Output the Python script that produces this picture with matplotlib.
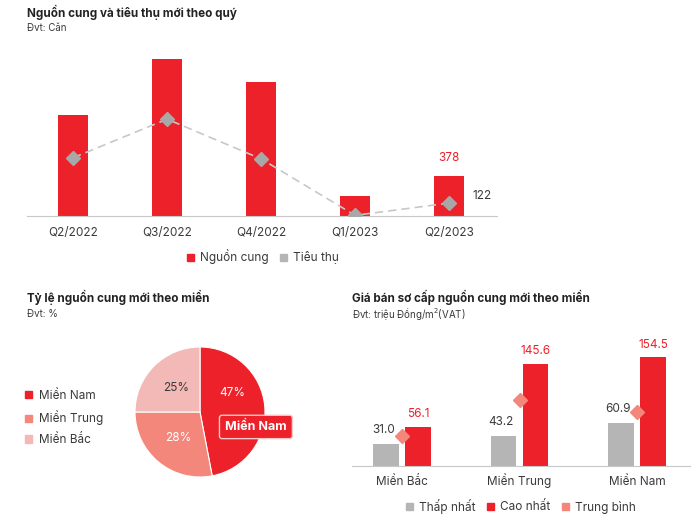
import numpy as np
import matplotlib
matplotlib.use('Agg')
import matplotlib.pyplot as plt
from matplotlib.patches import Patch

plt.rcParams['font.family'] = ['Inter', 'DejaVu Sans']

# data
quarters = ['Q2/2022', 'Q3/2022', 'Q4/2022', 'Q1/2023', 'Q2/2023']
supply = [955, 1480, 1265, 190, 378]
sales = [550, 915, 540, 6, 122]

regions_pie = ['Miền Nam', 'Miền Trung', 'Miền Bắc']
share = [47, 28, 25]

regions = ['Miền Bắc', 'Miền Trung', 'Miền Nam']
price_low = [31.0, 43.2, 60.9]
price_high = [56.1, 145.6, 154.5]
price_avg = [43.0, 94.3, 76.3]

RED = '#EC2129'
GRAY = '#B5B5B5'
SALMON = '#F4877B'
PINK = '#F3B9B6'
TXT = '#3a3a3a'
AXC = '#C8C8C8'

W, H = 700, 518
fig = plt.figure(figsize=(7, 5.18), dpi=100)


def box(x0, y0, x1, y1):
    # pixel box (top-left origin) -> figure coords
    return [x0 / W, 1 - y1 / H, (x1 - x0) / W, (y1 - y0) / H]


def ftext(x, y, s, **kw):
    fig.text(x / W, 1 - y / H, s, va='center', ha='left', **kw)


# ---------- top chart ----------
ax1 = fig.add_axes(box(27, 40, 497, 216))
x = np.arange(len(quarters))
ax1.bar(x, supply, width=0.31, color=RED, zorder=2)
ax1.plot(x, sales, color='#C8C8C8', ls=(0, (5, 3)), lw=1.2, zorder=3)
ax1.plot(x, sales, ls='none', marker='D', ms=7, color='#A8A8A8', zorder=4)
ax1.set_xlim(-0.49, 4.51)
ax1.set_ylim(0, 1663)
ax1.set_xticks(x)
ax1.set_xticklabels(quarters, fontsize=8.5, color=TXT)
ax1.set_yticks([])
ax1.tick_params(axis='x', length=0, pad=8)
for s in ['top', 'right', 'left']:
    ax1.spines[s].set_visible(False)
ax1.spines['bottom'].set_color(AXC)
ax1.annotate(str(supply[-1]), (x[-1], supply[-1]), xytext=(0, 13),
             textcoords='offset points', ha='center', va='center',
             color=RED, fontsize=8.5)
ax1.annotate(str(sales[-1]), (x[-1], sales[-1]), xytext=(24, 5),
             textcoords='offset points', ha='center', va='center',
             color=TXT, fontsize=8.5)

fig.legend(handles=[Patch(color=RED), Patch(color=GRAY)],
           labels=['Nguồn cung', 'Tiêu thụ'], loc='center',
           bbox_to_anchor=(263 / W, 1 - 257 / H), ncol=2, frameon=False,
           fontsize=8.5, handlelength=0.6, handleheight=0.6,
           handletextpad=0.5, columnspacing=1.0, labelcolor=TXT)

ftext(27, 12, 'Nguồn cung và tiêu thụ mới theo quý', fontsize=8.4,
      fontweight='bold', color='#222222')
ftext(27, 28, 'Đvt: Căn', fontsize=7, color=TXT)

# ---------- pie ----------
ax2 = fig.add_axes(box(135, 347, 265, 477))
wedges, _, pcts = ax2.pie(share, colors=[RED, SALMON, PINK], startangle=90,
                          counterclock=False, autopct='%d%%',
                          pctdistance=0.52,
                          wedgeprops=dict(edgecolor='white', linewidth=0.8),
                          textprops=dict(fontsize=8.5))
pcts[0].set_color('white')
pcts[1].set_color('white')
pcts[2].set_color(TXT)
pcts[0].set_position((0.57 * np.cos(np.radians(30)), 0.57 * np.sin(np.radians(30))))
ax2.set_xlim(-1, 1)
ax2.set_ylim(-1, 1)
ax2.set_aspect('equal')
ax2.text(0.86, -0.23, regions_pie[0], ha='center', va='center', color='white',
         fontsize=9, fontweight='bold',
         bbox=dict(boxstyle='round,pad=0.45,rounding_size=0.2', fc=RED,
                   ec='#F6C9C7', lw=1))

fig.legend(handles=[Patch(color=c) for c in [RED, SALMON, PINK]],
           labels=regions_pie, loc='center left',
           bbox_to_anchor=(14 / W, 1 - 418 / H), frameon=False,
           fontsize=8.5, handlelength=0.6, handleheight=0.6,
           handletextpad=0.6, labelspacing=0.75, labelcolor=TXT)

ftext(27, 297, 'Tỷ lệ nguồn cung mới theo miền', fontsize=8.4,
      fontweight='bold', color='#222222')
ftext(27, 314, 'Đvt: %', fontsize=7, color=TXT)

# ---------- price chart ----------
ax3 = fig.add_axes(box(352, 340, 690, 466))
xr = np.arange(len(regions))
bw = 0.217
off = 0.136
ax3.bar(xr - off, price_low, width=bw, color=GRAY, zorder=2)
ax3.bar(xr + off, price_high, width=bw, color=RED, zorder=2)
ax3.plot(xr, price_avg, ls='none', marker='D', ms=7.5, color=SALMON, zorder=3)
for i in range(len(regions)):
    ax3.annotate(f'{price_low[i]:.1f}', (xr[i] - off, price_low[i]),
                 xytext=(-2, 10), textcoords='offset points', ha='center',
                 va='center', color=TXT, fontsize=8.5)
    ax3.annotate(f'{price_high[i]:.1f}', (xr[i] + off, price_high[i]),
                 xytext=(0, 9), textcoords='offset points', ha='center',
                 va='center', color=RED, fontsize=8.5)
ax3.set_xlim(-0.426, 2.45)
ax3.set_ylim(0, 179)
ax3.set_xticks(xr)
ax3.set_xticklabels(regions, fontsize=8.5, color=TXT)
for lab in ax3.get_xticklabels():
    lab.set_verticalalignment('baseline')
ax3.set_yticks([])
ax3.tick_params(axis='x', length=0, pad=14)
for s in ['top', 'right', 'left']:
    ax3.spines[s].set_visible(False)
ax3.spines['bottom'].set_color(AXC)

fig.legend(handles=[Patch(color=GRAY), Patch(color=RED), Patch(color=SALMON)],
           labels=['Thấp nhất', 'Cao nhất', 'Trung bình'], loc='center',
           bbox_to_anchor=(521 / W, 1 - 506 / H), ncol=3, frameon=False,
           fontsize=8.5, handlelength=0.6, handleheight=0.6,
           handletextpad=0.5, columnspacing=1.0, labelcolor=TXT)

ftext(352, 297, 'Giá bán sơ cấp nguồn cung mới theo miền', fontsize=8.4,
      fontweight='bold', color='#222222')
ftext(352, 314, 'Đvt: triệu Đồng/m$^2$(VAT)', fontsize=7, color=TXT)

fig.savefig('out.png', dpi=100)
